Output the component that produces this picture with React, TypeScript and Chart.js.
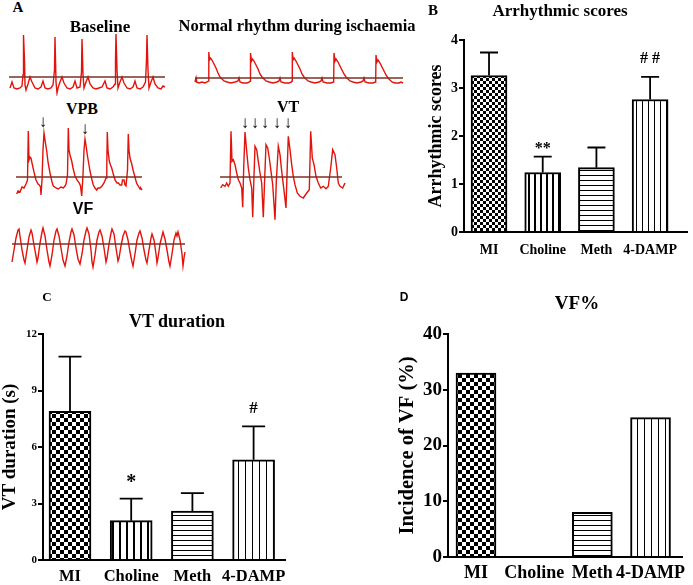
import React, { useEffect, useRef } from 'react';
import { Chart, registerables } from 'chart.js';
Chart.register(...registerables);

const SERIF = "'Liberation Serif', 'Times New Roman', Times, serif";
const SANS = "'Liberation Sans', Arial, Helvetica, sans-serif";
const ECG_RED = '#e3120b';
const REF_LINE = '#7b3024';

// ---------- Panel B/C/D data ----------
const groups = ['MI', 'Choline', 'Meth', '4-DAMP'];

const scoreMeans = [3.26, 1.24, 1.34, 2.76];
const scoreErrors = [0.48, 0.33, 0.42, 0.47];
const scoreMarks = ['', '**', '', '# #'];
const scoreTicks = [0, 1, 2, 3, 4];

const vtMeans = [7.89, 2.09, 2.6, 5.32];
const vtErrors = [2.91, 1.17, 0.95, 1.77];
const vtMarks = ['', '*', '', '#'];
const vtTicks = [0, 3, 6, 9, 12];

const vfIncidence = [33, 0, 8, 25];
const vfTicks = [0, 10, 20, 30, 40];

// ---------- Panel A ECG traces: [time, amplitude] (reference line = 0) ----------
const baselineTrace = [
  [0, -11], [2, -5], [4, -11], [7, -12], [10, -11], [12, -9], [13, 2], [13.5, 42], [14.5, 17], [15, -8], [16, -13],
  [18, -7], [20, 0], [22, -5], [25, -11], [28, -12], [31, -10], [33, -4], [35, -11], [38, -12], [41, -11], [43, -8],
  [44.5, 7], [45, 40], [46, -5], [47, -16], [48, -11], [50, -5], [52, 0], [54, -6], [57, -11], [60, -12], [63, -10],
  [65, -4], [67, -11], [70, -10], [71.5, 5], [72, 38], [73, 2], [74, -11], [76, -5], [78, 0], [80, -7], [83, -11],
  [86, -12], [89, -11], [92, -10], [95, -4], [97, -11], [100, -12], [103, -10], [105, -7], [105.5, 17], [106, 43],
  [107, 7], [108, -11], [110, -5], [112, 0], [114, -6], [117, -11], [120, -12], [123, -10], [125, -4], [127, -11],
  [130, -12], [133, -10], [135.5, -5], [136.5, 17], [137, 42], [138, 7], [139, -11], [141, -5], [143, 0], [145, -7],
  [148, -11], [151, -12], [153, -9], [155, -10],
];

const ischaemiaTrace = [
  [0, -4], [1, 0], [1.5, -4], [4, -5], [7, -4], [10, -5], [12, -4], [13.5, -3], [13.8, 26], [14.5, 18], [15.5, 20],
  [17, 18], [19, 14], [21, 10], [23, 5], [25, 1], [27, -1], [29, -3], [32, -4], [36, -5], [40, -4], [43, -3], [44, 0],
  [45, -4], [48, -5], [52, -5], [54.5, -4], [55.2, -3], [55.5, 25], [56.5, 17], [57.5, 19], [59, 17], [61, 13],
  [63, 9], [65, 4], [67, 1], [69, -1], [71, -3], [74, -4], [78, -5], [82, -4], [84, -3], [85, 0], [86, -4], [90, -5],
  [94, -5], [96.5, -4], [97, -3], [97.3, 26], [98, 18], [99, 20], [101, 17], [103, 13], [105, 9], [107, 4], [109, 1],
  [111, -1], [113, -3], [116, -4], [120, -5], [124, -4], [126, -3], [127, 0], [128, -4], [132, -5], [136, -5],
  [138.3, -4], [138.7, -3], [139, 25], [140, 17], [141, 19], [143, 16], [145, 12], [147, 8], [149, 4], [151, 1],
  [153, -1], [155, -3], [158, -4], [162, -5], [166, -4], [168, -3], [169, 0], [170, -4], [174, -5], [178, -5],
  [180.3, -4], [180.7, -3], [181, 23], [182, 16], [183, 18], [185, 15], [187, 11], [189, 7], [191, 3], [193, 0],
  [195, -2], [197, -4], [200, -5], [204, -5], [206, -4], [208, -5],
];

const vpbTrace = [
  [0.7, -17], [2, -14], [4, -15], [6, -10], [8, -11], [10, -7], [11.5, -3], [12.3, 46], [13, 17], [14, 20], [15, 19],
  [16, 14], [18, 5], [20, -3], [22, -7], [23.3, -8], [24.5, -10], [25, -18], [26, -3], [27, 27], [28, 44], [29, 37],
  [30.7, 26], [32, 15], [34, 4], [36, -5], [37.3, -9], [40, -11], [42.3, -12], [45, -10], [47.3, -11], [49, -9],
  [50, -7], [51.5, 2], [52.3, 49], [53, 27], [54, 22], [55.7, 16], [57, 9], [59, 1], [61, -3], [63.3, -6],
  [64.5, -9], [65.7, -19], [67, 2], [68, 27], [69, 38], [70, 32], [71.3, 22], [73, 12], [74, 6], [76, -3],
  [77.3, -8], [79, -11], [80.7, -13], [82, -11], [84, -11], [86, -9], [88, -6], [90, -1], [90.8, 12], [91.3, 45],
  [92, 27], [93.3, 16], [94.5, 12], [95.7, 9], [97, 4], [99, -3], [101, -6], [102.3, -6], [104, -8], [105.7, -8],
  [106.5, -3], [108, -3], [109, -8], [110, -9], [111.5, 7], [112.3, 43], [113, 27], [114, 19], [115.5, 14],
  [117.3, 6], [119, 0], [120, -4], [121, -7], [122.3, -9], [124, -12], [124.7, -11], [126, -13],
];

const vtTrace = [
  [0.7, -11], [2.7, -7.7], [5, -9.3], [6.7, -6], [8.3, -9.3], [10, -6], [11, 45.7], [12, 15.7], [13.3, 17.3],
  [15, 12.3], [16.7, 4], [18.3, -2.7], [20, -6], [21.7, -11], [22.7, -30.3], [23.7, 9], [25, 45], [26.7, 25.7],
  [28.3, 9], [30, -2.7], [31.7, -11], [32.7, -40.3], [33.7, -7.7], [35, 30.7], [36.7, 27.3], [38.3, 15.7], [40, 4],
  [41.7, -6], [43.3, -40.3], [44.7, -1], [46, 32.3], [47.7, 29], [49.3, 19], [51, 5.7], [52.7, -7.7], [55, -42.7],
  [56.3, -4.3], [58.3, 30.7], [60, 22.3], [61.7, 5.7], [63.3, -7.7], [66, -31], [67, 2.3], [68.3, 40.7], [70, 27.3],
  [71.7, 12.3], [73.3, 0.7], [75, -7.7], [77.3, -16], [80, -19.3], [83.3, -21], [86.7, -16], [89.3, -12.7],
  [90.7, 45.7], [92.3, 19], [94, 12.3], [96, 0.7], [98.3, -6], [100.7, -11], [103.3, -9.3], [106, -11.7],
  [108.3, -9.3], [110.7, 9], [112.7, 27.3], [115, 22.3], [116.7, 9], [118.3, -6], [120, -9.3], [122.7, -11], [125, -6],
];

const vfTrace = [
  [0, -18], [2, -6], [4, 6], [6, 14], [7, 15], [8, 8], [10, -6], [12, -16], [13, -19], [15, -6], [17, 7], [19, 14],
  [20, 11], [22, -1], [24, -12], [25, -18], [26, -14], [28, 1], [30, 12], [31, 16], [33, 8], [35, -6], [37, -18],
  [38, -22], [40, -11], [42, 4], [44, 13], [45, 15], [47, 8], [49, -4], [51, -16], [53, -22], [55, -12], [57, 2],
  [59, 12], [60, 15], [62, 9], [64, -4], [66, -15], [68, -20], [70, -10], [72, 4], [74, 13], [75, 16], [77, 10],
  [79, -6], [80, -18], [81, -23], [83, -11], [85, 4], [87, 12], [88, 14], [90, 8], [92, -4], [94, -18], [95, -14],
  [97, 0], [99, 11], [100, 15], [102, 10], [104, -4], [106, -17], [107, -14], [109, -2], [111, 8], [113, 13],
  [114, 12], [116, 4], [118, -8], [120, -18], [121, -22], [123, -10], [125, 4], [127, 11], [128, 13], [130, 6],
  [132, -6], [134, -16], [135, -19], [137, -6], [139, 6], [140, 10], [142, 4], [144, -10], [145, -19], [146, -14],
  [148, 0], [150, 8], [151, 12], [153, 5], [155, -6], [157, -18], [158, -22], [160, -10], [162, 4], [164, 11],
  [165, 8], [166, 12], [168, 4], [170, -10], [171, -22], [172, -14], [173, -8],
];

// ---------- pattern helpers ----------
function checker(ctx: CanvasRenderingContext2D, cell: number) {
  const c = document.createElement('canvas');
  c.width = cell * 2; c.height = cell * 2;
  const g = c.getContext('2d')!;
  g.fillStyle = '#fff'; g.fillRect(0, 0, c.width, c.height);
  g.fillStyle = '#000'; g.fillRect(0, 0, cell, cell); g.fillRect(cell, cell, cell, cell);
  return ctx.createPattern(c, 'repeat')!;
}
function vStripes(ctx: CanvasRenderingContext2D, gap: number, lw: number) {
  const c = document.createElement('canvas');
  c.width = gap; c.height = 4;
  const g = c.getContext('2d')!;
  g.fillStyle = '#fff'; g.fillRect(0, 0, gap, 4);
  g.fillStyle = '#000'; g.fillRect(0, 0, lw, 4);
  return ctx.createPattern(c, 'repeat')!;
}
function hStripes(ctx: CanvasRenderingContext2D, gap: number, lw: number) {
  const c = document.createElement('canvas');
  c.width = 4; c.height = gap;
  const g = c.getContext('2d')!;
  g.fillStyle = '#fff'; g.fillRect(0, 0, 4, gap);
  g.fillStyle = '#000'; g.fillRect(0, 0, 4, lw);
  return ctx.createPattern(c, 'repeat')!;
}

type BarSpec = {
  box: { left: number; top: number; width: number; height: number };
  padding: { left: number; right: number; top: number; bottom: number };
  yAxisWidth: number; xAxisHeight: number;
  xMin: number; xMax: number; barThickness: number;
  yTicks: number[]; values: number[]; errors?: number[]; marks?: string[];
  markSize?: number[]; markLift?: number[]; capWidth?: number;
  checkerCell: number; stripeGap: number; hGap: number;
  tickSize: number; catSize: number; catPad: number;
  yTitle: string; yTitleSize: number; yTitlePad: number; yTitleLH: number;
};

function BarPanel({ spec }: { spec: BarSpec }) {
  const ref = useRef<HTMLCanvasElement>(null);
  useEffect(() => {
    const canvas = ref.current!;
    const c2 = canvas.getContext('2d')!;
    const fills = [
      checker(c2, spec.checkerCell),
      vStripes(c2, spec.stripeGap, 2),
      hStripes(c2, spec.hGap, 1),
      vStripes(c2, spec.stripeGap, 1),
    ];
    const overlay = {
      id: 'errMarks',
      afterDatasetsDraw(chart: any) {
        const { ctx } = chart;
        const meta = chart.getDatasetMeta(0);
        const ys = chart.scales.y;
        ctx.save();
        ctx.strokeStyle = '#000';
        ctx.lineWidth = 1.8;
        meta.data.forEach((el: any, i: number) => {
          const e = spec.errors ? spec.errors[i] : 0;
          const top = ys.getPixelForValue(spec.values[i] + (e || 0));
          if (e) {
            const cw = (spec.capWidth || 20) / 2;
            ctx.beginPath();
            ctx.moveTo(el.x, el.y);
            ctx.lineTo(el.x, top);
            ctx.moveTo(el.x - cw, top);
            ctx.lineTo(el.x + cw, top);
            ctx.stroke();
          }
          const m = spec.marks ? spec.marks[i] : '';
          if (m) {
            ctx.fillStyle = '#000';
            ctx.font = `bold ${spec.markSize![i]}px ${SERIF}`;
            ctx.textAlign = 'center';
            ctx.textBaseline = 'alphabetic';
            ctx.fillText(m, el.x, top - spec.markLift![i]);
          }
        });
        ctx.restore();
      },
    };
    const chart = new Chart(canvas, {
      type: 'bar',
      data: {
        datasets: [{
          data: spec.values.map((v, i) => ({ x: i, y: v })),
          backgroundColor: fills as any,
          borderColor: '#000',
          borderWidth: 2,
          barThickness: spec.barThickness,
        }],
      },
      options: {
        animation: false,
        responsive: false,
        maintainAspectRatio: false,
        layout: { padding: spec.padding },
        plugins: { legend: { display: false }, tooltip: { enabled: false } },
        scales: {
          x: {
            type: 'linear',
            min: spec.xMin,
            max: spec.xMax,
            offset: false,
            grid: { display: false, drawTicks: false },
            border: { display: true, color: '#000', width: 2 },
            afterBuildTicks: (s: any) => { s.ticks = groups.map((_, i) => ({ value: i })); },
            afterFit: (s: any) => { s.height = spec.xAxisHeight; },
            ticks: {
              autoSkip: false, maxRotation: 0, padding: spec.catPad, color: '#000',
              font: { family: SERIF, size: spec.catSize, weight: 'bold' },
              callback: (v: any) => groups[v as number] ?? '',
            },
          },
          y: {
            type: 'linear',
            min: spec.yTicks[0],
            max: spec.yTicks[spec.yTicks.length - 1],
            afterFit: (s: any) => { s.width = spec.yAxisWidth; },
            afterBuildTicks: (s: any) => { s.ticks = spec.yTicks.map((v) => ({ value: v })); },
            grid: { drawOnChartArea: false, drawTicks: true, tickLength: 5, color: '#000', lineWidth: 2 },
            border: { display: true, color: '#000', width: 2 },
            ticks: { padding: 1, color: '#000', font: { family: SERIF, size: spec.tickSize, weight: 'bold' } },
            title: {
              display: true, text: spec.yTitle, color: '#000',
              font: { family: SERIF, size: spec.yTitleSize, weight: 'bold', lineHeight: spec.yTitleLH },
              padding: { top: spec.yTitlePad, bottom: 0 },
            },
          },
        },
      },
      plugins: [overlay],
    } as any);
    return () => chart.destroy();
  }, [spec]);
  const b = spec.box;
  return (
    <canvas ref={ref} width={b.width} height={b.height}
      style={{ position: 'absolute', left: b.left, top: b.top, width: b.width, height: b.height }} />
  );
}

type TraceSpec = {
  box: { left: number; top: number; width: number; height: number };
  points: number[][]; refSpan: number[];
  xMin: number; xMax: number; yMin: number; yMax: number;
};

function TracePanel({ spec }: { spec: TraceSpec }) {
  const ref = useRef<HTMLCanvasElement>(null);
  useEffect(() => {
    const chart = new Chart(ref.current!, {
      type: 'line',
      data: {
        datasets: [
          {
            data: spec.refSpan.map((t) => ({ x: t, y: 0 })),
            borderColor: REF_LINE, borderWidth: 1.6, pointRadius: 0, tension: 0,
          },
          {
            data: spec.points.map(([t, v]) => ({ x: t, y: v })),
            borderColor: ECG_RED, borderWidth: 1.4, pointRadius: 0, tension: 0,
          },
        ],
      },
      options: {
        animation: false,
        responsive: false,
        maintainAspectRatio: false,
        layout: { padding: 0 },
        plugins: { legend: { display: false }, tooltip: { enabled: false } },
        scales: {
          x: { type: 'linear', display: false, min: spec.xMin, max: spec.xMax },
          y: { type: 'linear', display: false, min: spec.yMin, max: spec.yMax },
        },
      },
    } as any);
    return () => chart.destroy();
  }, [spec]);
  const b = spec.box;
  return (
    <canvas ref={ref} width={b.width} height={b.height}
      style={{ position: 'absolute', left: b.left, top: b.top, width: b.width, height: b.height }} />
  );
}

function Label({ x, y, size, text, sans, thin }: { x: number; y: number; size: number; text: string; sans?: boolean; thin?: boolean }) {
  return (
    <div style={{
      position: 'absolute', left: x, top: y, transform: 'translate(-50%, -50%)',
      fontFamily: sans ? SANS : SERIF, fontWeight: thin ? 'normal' : 'bold', fontSize: size, lineHeight: 1,
      whiteSpace: 'nowrap', color: '#000',
    }}>{text}</div>
  );
}

const traceSpecs: TraceSpec[] = [
  { box: { left: 8, top: 30, width: 160, height: 66 }, points: baselineTrace, refSpan: [-1, 155], xMin: -2, xMax: 158, yMin: -19, yMax: 47 },
  { box: { left: 188, top: 45, width: 222, height: 45 }, points: ischaemiaTrace, refSpan: [0, 208], xMin: -7, xMax: 215, yMin: -12, yMax: 33 },
  { box: { left: 10, top: 122, width: 140, height: 100 }, points: vpbTrace, refSpan: [0, 126], xMin: -6, xMax: 134, yMin: -45, yMax: 55 },
  { box: { left: 214, top: 122, width: 135, height: 105 }, points: vtTrace, refSpan: [0, 122], xMin: -6, xMax: 129, yMin: -50, yMax: 55 },
  { box: { left: 6, top: 220, width: 185, height: 52 }, points: vfTrace, refSpan: [0, 173], xMin: -6, xMax: 179, yMin: -28, yMax: 24 },
];

const specB: BarSpec = {
  box: { left: 420, top: 0, width: 273, height: 290 },
  padding: { left: 0, right: 6, top: 40, bottom: 0 },
  yAxisWidth: 44, xAxisHeight: 58,
  xMin: -0.466, xMax: 3.687, barThickness: 36,
  yTicks: scoreTicks, values: scoreMeans, errors: scoreErrors, marks: scoreMarks,
  markSize: [16, 16, 16, 16], markLift: [0, 4, 0, 14], capWidth: 18,
  checkerCell: 3, stripeGap: 6, hGap: 5,
  tickSize: 14, catSize: 14, catPad: 10,
  yTitle: 'Arrhythmic scores', yTitleSize: 18, yTitlePad: 6, yTitleLH: 1.2,
};

const specC: BarSpec = {
  box: { left: 0, top: 290, width: 300, height: 295 },
  padding: { left: 0, right: 15, top: 44, bottom: 0 },
  yAxisWidth: 43, xAxisHeight: 25,
  xMin: -0.441, xMax: 3.513, barThickness: 42,
  yTicks: vtTicks, values: vtMeans, errors: vtErrors, marks: vtMarks,
  markSize: [20, 20, 17, 17], markLift: [0, 11, 0, 13], capWidth: 23,
  checkerCell: 4, stripeGap: 7, hGap: 5,
  tickSize: 11, catSize: 16.5, catPad: 7,
  yTitle: 'VT duration (s)', yTitleSize: 19, yTitlePad: 0.5, yTitleLH: 1,
};

const specD: BarSpec = {
  box: { left: 350, top: 290, width: 343, height: 295 },
  padding: { left: 0, right: 11, top: 44, bottom: 0 },
  yAxisWidth: 98, xAxisHeight: 28,
  xMin: -0.481, xMax: 3.541, barThickness: 40,
  yTicks: vfTicks, values: vfIncidence,
  checkerCell: 4, stripeGap: 7, hGap: 5,
  tickSize: 19, catSize: 18, catPad: 6,
  yTitle: 'Incidence of VF (%)', yTitleSize: 20.5, yTitlePad: 45.7, yTitleLH: 1.2,
};

export default function App() {
  return (
    <div style={{ position: 'absolute', left: 0, top: 0, width: 693, height: 585, background: '#fff', overflow: 'hidden' }}>
      {traceSpecs.map((s, i) => <TracePanel key={i} spec={s} />)}
      <BarPanel spec={specB} />
      <BarPanel spec={specC} />
      <BarPanel spec={specD} />

      <Label x={18} y={7} size={15} text="A" />
      <Label x={100} y={26} size={17} text="Baseline" />
      <Label x={297} y={26} size={16.5} text="Normal rhythm during ischaemia" />
      <Label x={82} y={109} size={16} text="VPB" />
      <Label x={43} y={121} size={17} text="↓" thin />
      <Label x={85} y={128} size={17} text="↓" thin />
      <Label x={288} y={107} size={16} text="VT" />
      {[245, 255, 265, 277, 288].map((x) => <Label key={x} x={x} y={122} size={17} text="↓" thin />)}
      <Label x={83} y={209} size={16} text="VF" sans />

      <Label x={433} y={10} size={15} text="B" />
      <Label x={560} y={10} size={17} text="Arrhythmic scores" />
      <Label x={47} y={296} size={13} text="C" />
      <Label x={177} y={321} size={18} text="VT duration" />
      <Label x={404} y={297} size={12} text="D" sans />
      <Label x={577} y={302} size={19} text="VF%" />
    </div>
  );
}
